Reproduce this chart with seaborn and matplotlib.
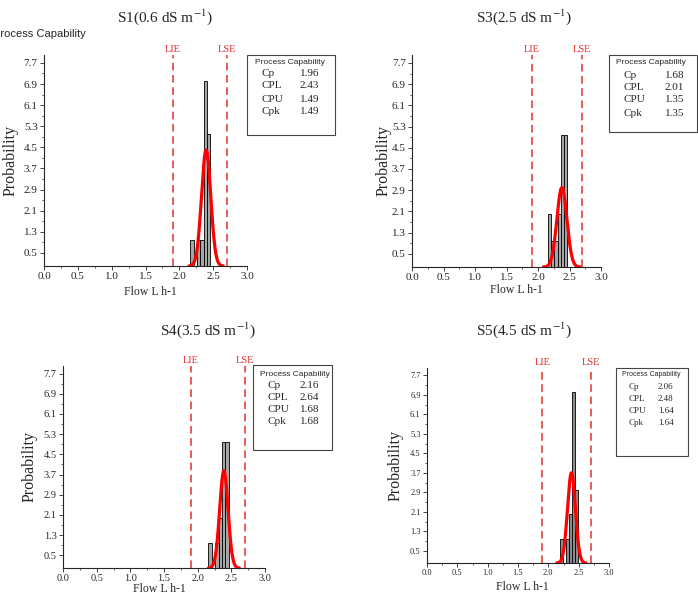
import numpy as np
import seaborn as sns
import matplotlib.pyplot as plt
from matplotlib.patches import Rectangle
from matplotlib.ticker import MultipleLocator, FixedLocator

sns.set_style("ticks")
plt.rcParams['font.family'] = ['Liberation Serif', 'DejaVu Serif']
plt.rcParams['mathtext.fontset'] = 'stix'

# data
panels = ["S1", "S3", "S4", "S5"]
titles = ["S1(0.6 dS m$^{-1}$)", "S3(2.5 dS m$^{-1}$)",
          "S4(3.5 dS m$^{-1}$)", "S5(4.5 dS m$^{-1}$)"]
bin_edges = {
    "S1": [2.16, 2.21, 2.26, 2.31, 2.36, 2.41, 2.46],
    "S3": [2.16, 2.21, 2.26, 2.31, 2.36, 2.41, 2.46],
    "S4": [2.16, 2.21, 2.26, 2.31, 2.36, 2.41, 2.46],
    "S5": [2.19, 2.24, 2.29, 2.34, 2.39, 2.44, 2.49],
}
bin_counts = {
    "S1": [1, 0, 1, 1, 7, 5],
    "S3": [2, 1, 1, 2, 5, 5],
    "S4": [1, 0, 1, 2, 5, 5],
    "S5": [1, 0, 1, 2, 7, 3],
}
fit_mean = {"S1": 2.396, "S3": 2.379, "S4": 2.389, "S5": 2.381}
fit_sigma = {"S1": 0.068, "S3": 0.079, "S4": 0.062, "S5": 0.065}
fit_peak = {"S1": 4.4, "S3": 3.0, "S4": 3.85, "S5": 3.7}
lie, lse = 1.9, 2.7
cap_names = ["Cp", "CPL", "CPU", "Cpk"]
cap_values = {
    "S1": ["1.96", "2.43", "1.49", "1.49"],
    "S3": ["1.68", "2.01", "1.35", "1.35"],
    "S4": ["2.16", "2.64", "1.68", "1.68"],
    "S5": ["2.06", "2.48", "1.64", "1.64"],
}
y_ticks = [0.5, 1.3, 2.1, 2.9, 3.7, 4.5, 5.3, 6.1, 6.9, 7.7]
x_ticks = [0.0, 0.5, 1.0, 1.5, 2.0, 2.5, 3.0]

W, H = 698, 600
fig = plt.figure(figsize=(W / 100, H / 100), dpi=100)

def fx(x):
    return x / W

def fy(y):
    return 1 - y / H

# layout in pixels: axes (left, right, top, bottom), title, ylabel x, xlabel, box, text sizes
layout = {
    "S1": dict(ax=(44, 247, 55, 266), title=(165, 17), ylab=3, xlab=(150, 292),
               box=(247, 335, 55, 135), hdr=(255, 62), lab=262, val=300,
               rows=[73, 86, 99, 111], fs=8, bfs=8, hfs=6, color="#a6a6a6"),
    "S3": dict(ax=(412, 601, 55, 267), title=(524, 17), ylab=376, xlab=(516, 290),
               box=(609, 697, 55, 132), hdr=(616, 63), lab=623, val=665,
               rows=[75, 87, 100, 113], fs=8, bfs=8, hfs=6, color="#a6a6a6"),
    "S4": dict(ax=(63, 265, 366, 568), title=(208, 330), ylab=22, xlab=(159, 589),
               box=(253, 332, 365, 450), hdr=(260, 374), lab=267, val=300,
               rows=[385, 397, 409, 422], fs=7.5, bfs=8, hfs=6, color="#a6a6a6"),
    "S5": dict(ax=(427, 609, 368, 563), title=(524, 330), ylab=388, xlab=(522, 587),
               box=(616, 688, 368, 456), hdr=(622, 374), lab=629, val=658,
               rows=[387, 399, 411, 423], fs=6, bfs=6.5, hfs=5, color="#8c8c8c"),
}

for name, title in zip(panels, titles):
    L = layout[name]
    l, r, t, b = L["ax"]
    ax = fig.add_axes([fx(l), fy(b), (r - l) / W, (b - t) / H])

    edges = bin_edges[name]
    centers = [(a + c) / 2 for a, c in zip(edges[:-1], edges[1:])]
    sns.histplot(x=centers, weights=bin_counts[name], bins=edges, ax=ax,
                 color=L["color"], edgecolor="black", linewidth=0.6, alpha=1)

    # fitted normal curve
    mu, sd = fit_mean[name], fit_sigma[name]
    xs = np.linspace(mu - 3.7 * sd, mu + 3.7 * sd, 200)
    ys = fit_peak[name] * np.exp(-0.5 * ((xs - mu) / sd) ** 2)
    sns.lineplot(x=xs, y=ys, color="red", linewidth=2.3, ax=ax)

    for xv, lbl in [(lie, "LIE"), (lse, "LSE")]:
        ax.axvline(xv, color="#e03030", linestyle=(0, (5, 3)), linewidth=1.1)
        ax.text(xv, 8.05, lbl, color="#e03030", fontsize=7.5, ha="center",
                va="bottom", clip_on=False)

    ax.set_xlim(0, 3)
    ax.set_ylim(0, 8)
    ax.set_xticks(x_ticks)
    ax.set_xticklabels([f"{v:.1f}" for v in x_ticks])
    ax.set_yticks(y_ticks)
    ax.set_yticklabels([f"{v:.1f}" for v in y_ticks])
    ax.xaxis.set_minor_locator(MultipleLocator(0.25))
    ax.yaxis.set_minor_locator(FixedLocator([v + 0.4 for v in y_ticks[:-1]]))
    ax.tick_params(which="major", direction="out", length=3, width=0.6,
                   labelsize=L["fs"], pad=1.5)
    ax.tick_params(which="minor", direction="out", length=1.5, width=0.5)
    ax.set_xlabel("")
    ax.set_ylabel("")
    sns.despine(ax=ax)
    for s in ["left", "bottom"]:
        ax.spines[s].set_linewidth(0.8)

    fig.text(fx(L["title"][0]), fy(L["title"][1]), title, fontsize=11,
             ha="center", va="center")
    fig.text(fx(L["ylab"]), fy((t + b) / 2), "Probability", fontsize=11.5,
             rotation=90, ha="left", va="center")
    fig.text(fx(L["xlab"][0]), fy(L["xlab"][1]), "Flow L h-1", fontsize=8.5,
             ha="center", va="center")

    bl, br, bt, bb = L["box"]
    fig.patches.append(Rectangle((fx(bl), fy(bb)), (br - bl) / W, (bb - bt) / H,
                                 transform=fig.transFigure, fill=False,
                                 edgecolor="#444444", linewidth=0.8))
    fig.text(fx(L["hdr"][0]), fy(L["hdr"][1]), "Process Capability",
             family=["Liberation Sans", "DejaVu Sans"], fontsize=L["hfs"],
             ha="left", va="center")
    for ry, nm, vv in zip(L["rows"], cap_names, cap_values[name]):
        fig.text(fx(L["lab"]), fy(ry), nm, fontsize=L["bfs"], ha="left", va="center")
        fig.text(fx(L["val"]), fy(ry), vv, fontsize=L["bfs"], ha="left", va="center")

# stray label cut at the left edge, as in the reference
fig.text(fx(-7), fy(34), "Process Capability", family=["Liberation Sans", "DejaVu Sans"],
         fontsize=8, ha="left", va="center")

fig.savefig("out.png", dpi=100)
